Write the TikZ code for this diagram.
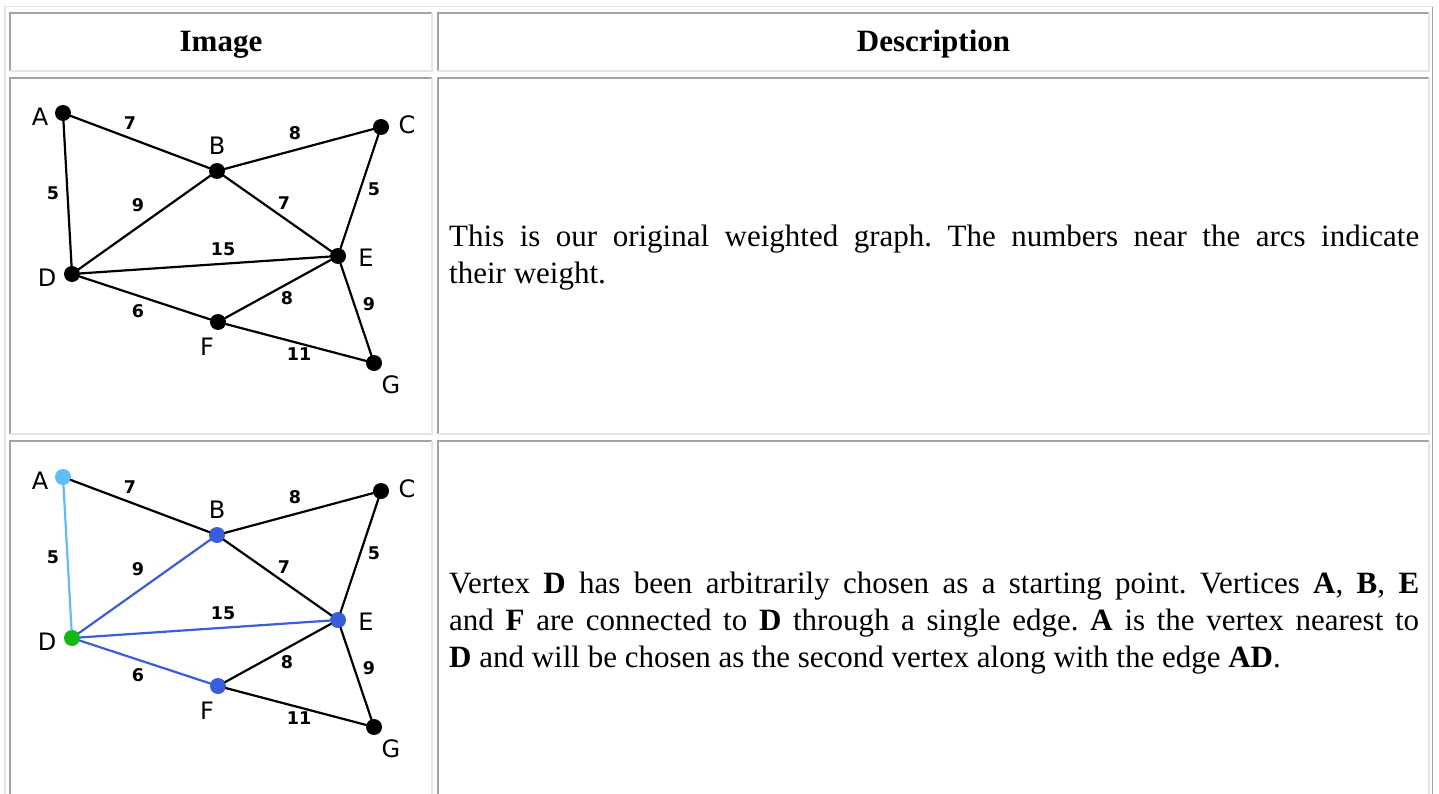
\documentclass[tikz,border=0pt]{standalone}
\usepackage{fontspec}
\setmainfont{Liberation Serif}
\newfontfamily\graphfont{DejaVu Sans}
\usetikzlibrary{positioning}
\tikzset{vtx/.style={circle, fill=black, draw=none, inner sep=0pt, minimum size=16pt}}
\tikzset{vlab/.style={font=\graphfont\fontsize{24}{24}\selectfont, inner sep=0pt}}
\tikzset{wlab/.style={font=\graphfont\bfseries\fontsize{17.5}{17.5}\selectfont, inner sep=0pt}}
\tikzset{edge/.style={line width=2.2pt, line cap=round}}
\tikzset{hd/.style={font=\bfseries\fontsize{31}{36}\selectfont, inner sep=0pt, anchor=base}}
\tikzset{txt/.style={font=\fontsize{31}{37}\selectfont\frenchspacing, text width=970pt, align=justify, inner sep=0pt, anchor=base west}}
\tikzset{celldark/.style={draw=cdark, line width=2pt}}
\tikzset{celllight/.style={draw=clight, line width=2pt}}
\definecolor{cdark}{RGB}{162,162,167}
\definecolor{clight}{RGB}{228,228,233}
\definecolor{cvlight}{RGB}{95,190,250}
\definecolor{cvblue}{RGB}{58,94,217}
\definecolor{cvgreen}{RGB}{20,185,20}

\begin{document}
\begin{tikzpicture}[x=1pt, y=-1pt]
        \fill[white] (0,0) rectangle (1439,794);
        \useasboundingbox (0,0) rectangle (1439,794);
        \clip (0,0) rectangle (1439,794);
        \tolerance=9999 \hyphenpenalty=10000 \emergencystretch=20pt

        %%% TABLE FRAME %%%
        \draw[celllight, line width=1.6pt] (4.7,800) -- (4.7,6.7) -- (1433,6.7);
        \draw[celldark, line width=1.6pt] (1432.5,6.7) -- (1432.5,800);
        \foreach \xa/\ya/\xb/\yb in {10/13/432/71, 438/13/1429/71, 10/78/432/434, 438/78/1429/434, 10/441/432/800, 438/441/1429/800}{
            \draw[celldark] (\xa,\yb) -- (\xa,\ya) -- (\xb,\ya);
            \draw[celllight] (\xb,\ya) -- (\xb,\yb) -- (\xa,\yb);
        }

        %%% HEADER %%%
        \node[hd] (himg) at (221,52) {Image};
        \node[hd] (hdesc) at (933.5,52) {Description};

        %%% ROW 1: ORIGINAL GRAPH %%%
        \foreach \n/\x/\y in {A/63/113, B/217/171, C/381/127, D/72/274, E/338/256, F/218/322, G/374/363}
            \node[vtx] (a\n) at (\x,\y) {};
        \foreach \n/\x/\y in {A/40/117, B/217/146, C/407/125, D/47/278, E/366/258, F/207/347, G/391/385}
            \node[vlab] (a\n-l) at (\x,\y) {\n};
        \foreach \u/\v/\w/\x/\y in {A/B/7/130/123, B/C/8/295/133, A/D/5/53/193, D/B/9/138/205, B/E/7/284/203, C/E/5/374/189,
                                    D/E/15/223/249, F/E/8/287/298, D/F/6/138/311, E/G/9/369/304, F/G/11/299/354}{
            \draw[edge] (a\u) -- (a\v);
            \node[wlab] (a\u\v-w) at (\x,\y) {\w};
        }
        \node[txt] (desc1) at (449,247)
            {This is our original weighted graph. The numbers near the arcs indicate\linebreak their weight.};

        %%% ROW 2: START AT D %%%
        \begin{scope}[yshift=-364pt]
        \foreach \n/\x/\y/\c in {A/63/113/cvlight, B/217/171/cvblue, C/381/127/black, D/72/274/cvgreen, E/338/256/cvblue, F/218/322/cvblue, G/374/363/black}
            \node[vtx, fill=\c] (b\n) at (\x,\y) {};
        \foreach \n/\x/\y in {A/40/117, B/217/146, C/407/125, D/47/278, E/366/258, F/207/347, G/391/385}
            \node[vlab] (b\n-l) at (\x,\y) {\n};
        \foreach \u/\v/\w/\x/\y/\c in {A/B/7/130/123/black, B/C/8/295/133/black, A/D/5/53/193/cvlight, D/B/9/138/205/cvblue,
                                       B/E/7/284/203/black, C/E/5/374/189/black, D/E/15/223/249/cvblue, F/E/8/287/298/black,
                                       D/F/6/138/311/cvblue, E/G/9/369/304/black, F/G/11/299/354/black}{
            \draw[edge, \c] (b\u) -- (b\v);
            \node[wlab] (b\u\v-w) at (\x,\y) {\w};
        }
        \end{scope}
        \node[txt] (desc2) at (449,593)
            {Vertex \textbf{D} has been arbitrarily chosen as a starting point. Vertices \textbf{A}, \textbf{B}, \textbf{E}\linebreak
             and \textbf{F} are connected to \textbf{D} through a single edge. \textbf{A} is the vertex nearest to\linebreak
             \textbf{D} and will be chosen as the second vertex along with the edge \textbf{AD}.};
    \end{tikzpicture}
\end{document}
